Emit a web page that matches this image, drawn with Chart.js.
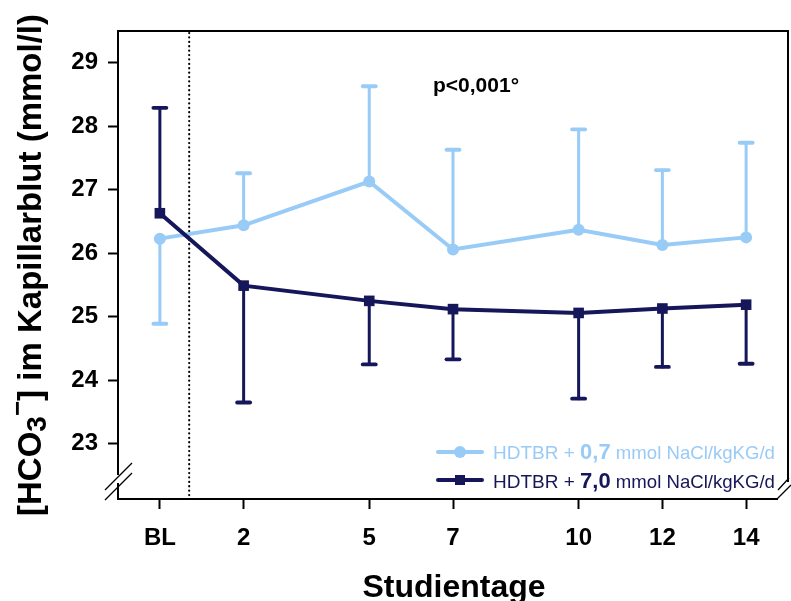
<!DOCTYPE html>
<html>
<head>
<meta charset="utf-8">
<script src="https://cdn.jsdelivr.net/npm/chart.js@4/dist/chart.umd.min.js"></script>
<style>
  body { margin: 0; background: #fff; }
  #wrap { width: 791px; height: 601px; position: relative; }
</style>
</head>
<body>
<div id="wrap"><canvas id="hco3Chart"></canvas></div>

<script>
// Studientage (BL = 0)
const days = [0, 2, 5, 7, 10, 12, 14];
const dayLabels = ['BL', '2', '5', '7', '10', '12', '14'];
const yTicks = [23, 24, 25, 26, 27, 28, 29];

// HDTBR + 0,7 mmol NaCl/kgKG/d
const lowSaltMean = [26.23, 26.44, 27.13, 26.06, 26.37, 26.13, 26.25];
const lowSaltErrTop = [null, 27.26, 28.63, 27.63, 27.95, 27.31, 27.74];
const lowSaltErrBottom = [24.89, null, null, null, null, null, null];

// HDTBR + 7,0 mmol NaCl/kgKG/d
const highSaltMean = [26.63, 25.49, 25.25, 25.12, 25.06, 25.13, 25.19];
const highSaltErrTop = [28.29, null, null, null, null, null, null];
const highSaltErrBottom = [null, 23.65, 24.25, 24.33, 23.71, 24.21, 24.26];

const LIGHT = '#99cbf7';
const DARK = '#16165a';
const FONT = 'Arial, "Liberation Sans", sans-serif';

const toPoints = (arr) => days.map((d, i) => ({ x: d, y: arr[i] }));

const extrasPlugin = {
  id: 'extras',
  beforeDatasetsDraw(chart) {
    const { ctx, chartArea: { top, bottom }, scales: { x, y } } = chart;
    ctx.save();
    // dotted line after baseline
    ctx.strokeStyle = '#000';
    ctx.lineWidth = 2.2;
    ctx.lineCap = 'round';
    ctx.setLineDash([0.1, 4.3]);
    const xd = x.getPixelForValue(0.7);
    ctx.beginPath();
    ctx.moveTo(xd, top + 2);
    ctx.lineTo(xd, bottom);
    ctx.stroke();
    ctx.setLineDash([]);

    // error bars
    const bars = [
      [lowSaltMean, lowSaltErrTop, lowSaltErrBottom, LIGHT],
      [highSaltMean, highSaltErrTop, highSaltErrBottom, DARK]
    ];
    bars.forEach(([mean, hi, lo, color]) => {
      ctx.strokeStyle = color;
      ctx.lineCap = 'round';
      days.forEach((d, i) => {
        [hi[i], lo[i]].forEach(end => {
          if (end == null) return;
          const px = x.getPixelForValue(d);
          const py0 = y.getPixelForValue(mean[i]);
          const py1 = y.getPixelForValue(end);
          ctx.lineWidth = 3;
          ctx.beginPath();
          ctx.moveTo(px, py0);
          ctx.lineTo(px, py1);
          ctx.stroke();
          ctx.lineWidth = 3.8;
          ctx.beginPath();
          ctx.moveTo(px - 6.5, py1);
          ctx.lineTo(px + 6.5, py1);
          ctx.stroke();
        });
      });
    });
    ctx.restore();
  },
  afterDraw(chart) {
    const { ctx, chartArea: { top, bottom, left, right } } = chart;
    ctx.save();

    // frame top and right
    ctx.strokeStyle = '#000';
    ctx.lineWidth = 2;
    ctx.beginPath();
    ctx.moveTo(left - 1, top);
    ctx.lineTo(right, top);
    ctx.lineTo(right, bottom - 17);
    ctx.stroke();

    // axis breaks
    ctx.fillStyle = '#fff';
    ctx.fillRect(left - 3, bottom - 24, 6, 8);
    ctx.fillRect(right - 10, bottom - 16, 14, 18);
    ctx.lineWidth = 1.3;
    ctx.beginPath();
    ctx.moveTo(left - 13, bottom + 1); ctx.lineTo(left + 14, bottom - 26);
    ctx.moveTo(left - 13, bottom - 9); ctx.lineTo(left + 14, bottom - 36);
    ctx.moveTo(right - 11, bottom); ctx.lineTo(right + 3, bottom - 14);
    ctx.moveTo(right - 10, bottom - 9); ctx.lineTo(right + 1, bottom - 21);
    ctx.stroke();

    // p value
    ctx.fillStyle = '#000';
    ctx.font = 'bold 21px ' + FONT;
    ctx.textBaseline = 'alphabetic';
    ctx.textAlign = 'left';
    ctx.fillText('p<0,001°', 433, 92);

    // y title with sub/superscript
    const parts = [
      { t: '[HCO', f: 'bold 33px ' + FONT, dy: 0 },
      { t: '3', f: 'bold 28px ' + FONT, dy: 5 },
      { t: '−', f: 'bold 26px ' + FONT, dy: -15 },
      { t: '] im Kapillarblut (mmol/l)', f: 'bold 33px ' + FONT, dy: 0 }
    ];
    let total = 0;
    parts.forEach(p => { ctx.font = p.f; p.w = ctx.measureText(p.t).width; total += p.w; });
    ctx.translate(41, (top + bottom) / 2);
    ctx.rotate(-Math.PI / 2);
    let cx = -total / 2;
    parts.forEach(p => {
      ctx.font = p.f;
      ctx.fillText(p.t, cx, p.dy);
      cx += p.w;
    });
    ctx.setTransform(1, 0, 0, 1, 0, 0);

    // x title
    ctx.font = 'bold 32px ' + FONT;
    ctx.textAlign = 'center';
    ctx.fillText('Studientage', 454, 597);

    // legend
    const rows = [
      { color: LIGHT, style: 'circle', y: 452, base: 459, num: '0,7' },
      { color: DARK, style: 'rect', y: 480, base: 488, num: '7,0' }
    ];
    ctx.textAlign = 'left';
    rows.forEach(r => {
      ctx.strokeStyle = r.color;
      ctx.fillStyle = r.color;
      ctx.lineWidth = 4;
      ctx.lineCap = 'round';
      ctx.beginPath();
      ctx.moveTo(438, r.y);
      ctx.lineTo(482, r.y);
      ctx.stroke();
      if (r.style === 'circle') {
        ctx.beginPath();
        ctx.arc(460, r.y, 6, 0, Math.PI * 2);
        ctx.fill();
      } else {
        ctx.fillRect(455, r.y - 5, 10, 10);
      }
      let tx = 493;
      ctx.font = '19px ' + FONT;
      ctx.fillText('HDTBR + ', tx, r.base);
      tx += ctx.measureText('HDTBR + ').width;
      ctx.font = 'bold 22px ' + FONT;
      ctx.fillText(r.num, tx, r.base);
      tx += ctx.measureText(r.num).width;
      ctx.font = '18.6px ' + FONT;
      ctx.fillText(' mmol NaCl/kgKG/d', tx, r.base);
    });
    ctx.restore();
  }
};

new Chart(document.getElementById('hco3Chart'), {
  type: 'line',
  data: {
    datasets: [
      {
        label: 'HDTBR + 0,7 mmol NaCl/kgKG/d',
        data: toPoints(lowSaltMean),
        borderColor: LIGHT,
        backgroundColor: LIGHT,
        borderWidth: 4,
        pointStyle: 'circle',
        pointRadius: 6,
        pointBorderWidth: 0,
        tension: 0,
        order: 1
      },
      {
        label: 'HDTBR + 7,0 mmol NaCl/kgKG/d',
        data: toPoints(highSaltMean),
        borderColor: DARK,
        backgroundColor: DARK,
        borderWidth: 4,
        pointStyle: 'rect',
        pointRadius: 7.5,
        pointBorderWidth: 0,
        tension: 0,
        order: 0
      }
    ]
  },
  options: {
    responsive: true,
    maintainAspectRatio: false,
    animation: false,
    layout: { autoPadding: false, padding: { top: 31, right: 3, left: 0, bottom: 0 } },
    plugins: {
      legend: { display: false },
      tooltip: { enabled: false }
    },
    scales: {
      x: {
        type: 'linear',
        min: -1,
        max: 15,
        afterBuildTicks: (scale) => { scale.ticks = days.map(v => ({ value: v })); },
        afterFit: (scale) => {
          scale.height = 102;
          scale.paddingLeft = 0;
          scale.paddingRight = 0;
        },
        ticks: {
          callback: (v) => dayLabels[days.indexOf(v)],
          font: { family: FONT, size: 24, weight: 'bold' },
          color: '#000',
          padding: 15,
          maxRotation: 0
        },
        grid: { drawOnChartArea: false, tickLength: 10, tickColor: '#000', tickWidth: 2 },
        border: { color: '#000', width: 2 }
      },
      y: {
        min: 22.13,
        max: 29.5,
        afterBuildTicks: (scale) => { scale.ticks = yTicks.map(v => ({ value: v })); },
        afterFit: (scale) => {
          scale.width = 118;
          scale.paddingTop = 0;
          scale.paddingBottom = 0;
        },
        ticks: {
          font: { family: FONT, size: 24, weight: 'bold' },
          color: '#000',
          padding: 10
        },
        grid: { drawOnChartArea: false, tickLength: 10, tickColor: '#000', tickWidth: 2 },
        border: { color: '#000', width: 2 }
      }
    }
  },
  plugins: [extrasPlugin]
});
</script>
</body>
</html>
